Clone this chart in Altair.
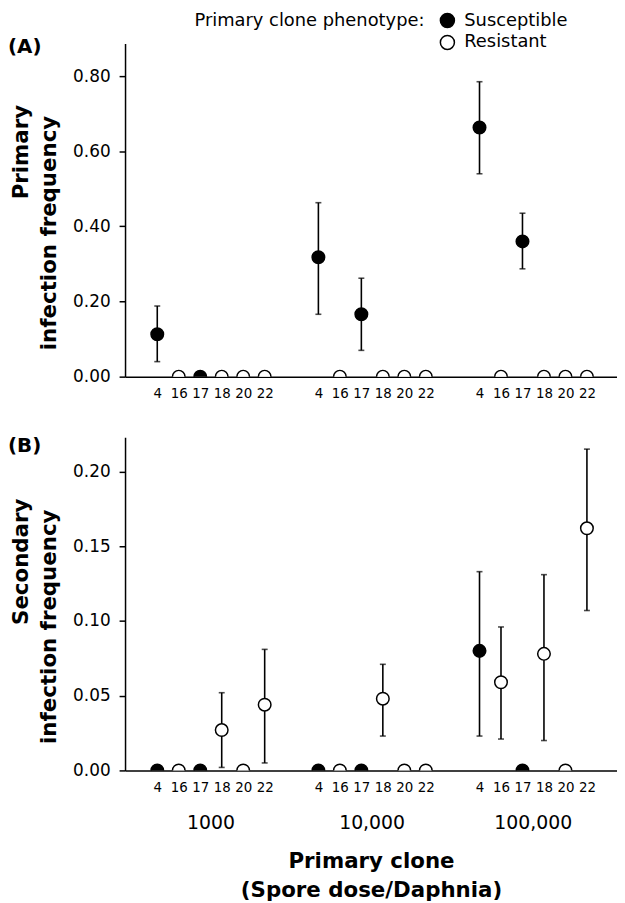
import altair as alt
import pandas as pd

# ---------------- data ----------------
groups = ["1000", "10,000", "100,000"]
clones = ["4", "16", "17", "18", "20", "22"]
phenotype = ["Susceptible", "Resistant", "Susceptible", "Resistant", "Resistant", "Resistant"]

# Panel A: primary infection frequency (rows = spore dose group, cols = clone)
prim_mean = [
    [0.113, 0.0, 0.0, 0.0, 0.0, 0.0],
    [0.318, 0.0, 0.166, 0.0, 0.0, 0.0],
    [0.663, 0.0, 0.360, 0.0, 0.0, 0.0],
]
prim_lo = [
    [0.040, None, None, None, None, None],
    [0.166, None, 0.070, None, None, None],
    [0.540, None, 0.287, None, None, None],
]
prim_hi = [
    [0.188, None, None, None, None, None],
    [0.463, None, 0.262, None, None, None],
    [0.785, None, 0.435, None, None, None],
]

# Panel B: secondary infection frequency
sec_mean = [
    [0.0, 0.0, 0.0, 0.027, 0.0, 0.044],
    [0.0, 0.0, 0.0, 0.048, 0.0, 0.0],
    [0.080, 0.059, 0.0, 0.078, 0.0, 0.162],
]
sec_lo = [
    [None, None, None, 0.002, None, 0.005],
    [None, None, None, 0.023, None, None],
    [0.023, 0.021, None, 0.020, None, 0.107],
]
sec_hi = [
    [None, None, None, 0.052, None, 0.081],
    [None, None, None, 0.071, None, None],
    [0.133, 0.096, None, 0.131, None, 0.215],
]

# ---------------- layout constants ----------------
STRIDE = len(clones) + 1.5          # slot distance between dose groups
W, H = 496, 336
FONT = "DejaVu Sans"
phen_scale = alt.Scale(domain=["Susceptible", "Resistant"], range=["black", "white"])


def build_df(mean, lo, hi):
    rows = []
    for g, gname in enumerate(groups):
        for i, c in enumerate(clones):
            rows.append(dict(group=gname, clone=c, pos=g * STRIDE + i,
                             phen=phenotype[i], mean=mean[g][i],
                             lo=lo[g][i], hi=hi[g][i]))
    return pd.DataFrame(rows)


positions = [g * STRIDE + i for g in range(len(groups)) for i in range(len(clones))]
clones_js = "[" + ",".join("'%s'" % c for c in clones) + "]"
label_expr = "%s[round(datum.value %% %s)]" % (clones_js, STRIDE)
x_scale = alt.Scale(domain=[-1.5, positions[-1] + 1.4], nice=False, zero=False)


def panel(df, ymax, yvals, letter, title1, title2, xtitle, show_groups, legend, letter_y):
    xkw = dict(values=positions, labelExpr=label_expr, ticks=False, tickSize=0,
               grid=False, labelFontSize=13.5, labelPadding=10, labelFlush=False,
               labelOverlap=False, labelBound=False, domainColor="black", domainWidth=1.5,
               labelColor="black", titleFontSize=21.5, titleFontWeight="bold",
               titlePadding=57, titleLineHeight=30, titleColor="black")
    if xtitle is None:
        x_axis = alt.Axis(title=None, **xkw)
    else:
        x_axis = alt.Axis(title=xtitle, **xkw)
    y_axis = alt.Axis(values=yvals, format=".2f", grid=False, tickSize=6, tickWidth=1.5,
                      tickColor="black", domainColor="black", domainWidth=1.5,
                      labelFontSize=17, labelPadding=9, labelColor="black", title=None)
    x_scale_ = x_scale
    y_scale = alt.Scale(domain=[0, ymax], nice=False)
    X = lambda f: alt.X(f, scale=x_scale_, axis=x_axis)
    Y = lambda f: alt.Y(f, scale=y_scale, axis=y_axis)

    bars_df = df[df["lo"].notna()]
    bars = alt.Chart(bars_df).mark_rule(color="black", strokeWidth=1.6).encode(
        x=X("pos:Q"), y=Y("lo:Q"), y2="hi:Q")
    cap_lo = alt.Chart(bars_df).mark_tick(orient="horizontal", size=6, thickness=1.6,
                                          color="black").encode(x=X("pos:Q"), y=Y("lo:Q"))
    cap_hi = alt.Chart(bars_df).mark_tick(orient="horizontal", size=6, thickness=1.6,
                                          color="black").encode(x=X("pos:Q"), y=Y("hi:Q"))
    pts = alt.Chart(df).mark_circle(stroke="black", strokeWidth=1.5, opacity=1, size=160,
                                    clip=True).encode(
        x=X("pos:Q"), y=Y("mean:Q"),
        fill=alt.Fill("phen:N", scale=phen_scale, legend=legend),
    )
    letter_t = alt.Chart(pd.DataFrame({"txt": [letter]})).mark_text(
        fontSize=20, fontWeight="bold", align="left", baseline="middle",
        color="black").encode(text="txt:N", x=alt.value(-118), y=alt.value(letter_y))
    t1 = alt.Chart(pd.DataFrame({"txt": [title1]})).mark_text(
        fontSize=21.5, fontWeight="bold", align="right", baseline="middle", angle=270,
        color="black").encode(text="txt:N", x=alt.value(-104), y=alt.value(62))
    t2 = alt.Chart(pd.DataFrame({"txt": [title2]})).mark_text(
        fontSize=21.5, fontWeight="bold", align="right", baseline="middle", angle=270,
        color="black").encode(text="txt:N", x=alt.value(-76), y=alt.value(73))
    layers = [bars, cap_lo, cap_hi, pts, letter_t, t1, t2]
    if show_groups:
        gdf = pd.DataFrame({"group": groups,
                            "center": [g * STRIDE + (len(clones) - 1) / 2 for g in range(len(groups))]})
        gl = alt.Chart(gdf).mark_text(fontSize=19, baseline="middle", color="black").encode(
            x=X("center:Q"), y=alt.value(H + 53), text="group:N")
        layers.append(gl)
    return alt.layer(*layers).properties(width=W, height=H)


legend = alt.Legend(title="Primary clone phenotype:", orient="none", legendX=70, legendY=-32,
                    titleOrient="left", titleFontSize=18, titleFontWeight="normal",
                    titleColor="black", labelColor="black", titleLimit=500, labelLimit=300,
                    labelFontSize=18, symbolSize=200, symbolStrokeColor="black",
                    symbolStrokeWidth=1.5, symbolType="circle", titlePadding=14,
                    labelOffset=8, rowPadding=0, titleAnchor="start", titleBaseline="top")

dfA = build_df(prim_mean, prim_lo, prim_hi)
dfB = build_df(sec_mean, sec_lo, sec_hi)

A = panel(dfA, 0.887, [0, 0.2, 0.4, 0.6, 0.8], "(A)", "Primary", "infection frequency",
          None, False, legend, 4)
B = panel(dfB, 0.223, [0, 0.05, 0.10, 0.15, 0.20], "(B)", "Secondary", "infection frequency",
          ["Primary clone", "(Spore dose/Daphnia)"], True, legend, 9)

chart = alt.vconcat(A, B, spacing=61, bounds="flush", padding=0).configure(
    font=FONT).configure_view(stroke=None)

chart.save("out.html", embed_options={"renderer": "svg", "actions": False})
